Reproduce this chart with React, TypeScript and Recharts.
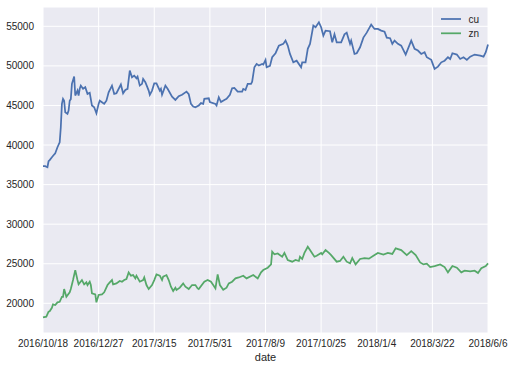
import React from 'react';
import { LineChart, Line, XAxis, YAxis, CartesianGrid } from 'recharts';

const tickLabels = ['2016/10/18', '2016/12/27', '2017/3/15', '2017/5/31', '2017/8/9', '2017/10/25', '2018/1/4', '2018/3/22', '2018/6/6'];
const tickIdx = [0, 50, 100, 150, 200, 250, 300, 350, 400];
const yTicks = [20000, 25000, 30000, 35000, 40000, 45000, 50000, 55000];

const cuIdx = [0, 2, 4, 5, 6, 8, 10, 11, 13, 15, 16, 17, 18, 19, 20, 22, 23, 24, 25, 26, 28, 29, 31, 32, 33, 34, 36, 38, 40, 42, 44, 46, 48, 50, 51, 53, 55, 57, 59, 62, 64, 66, 70, 72, 74, 76, 78, 80, 82, 84, 85, 87, 89, 90, 92, 95, 96, 98, 100, 102, 105, 106, 107, 110, 112, 116, 119, 122, 125, 129, 131, 133, 135, 137, 140, 142, 144, 145, 149, 150, 155, 156, 158, 160, 163, 165, 168, 170, 172, 175, 179, 180, 182, 184, 187, 188, 190, 192, 194, 197, 198, 200, 201, 204, 206, 209, 212, 216, 218, 220, 222, 225, 228, 232, 233, 236, 238, 240, 243, 245, 248, 250, 252, 254, 258, 260, 262, 264, 268, 271, 273, 276, 277, 280, 282, 285, 288, 291, 295, 298, 301, 304, 307, 309, 312, 314, 316, 319, 322, 326, 331, 334, 337, 340, 343, 345, 349, 352, 355, 358, 361, 364, 366, 368, 372, 375, 378, 381, 384, 388, 393, 396, 398, 400];
const cuVal = [37320, 37320, 37200, 37950, 38100, 38460, 38800, 38950, 39720, 40350, 42250, 45200, 45830, 45600, 44140, 43940, 44350, 45600, 45800, 47730, 48650, 46250, 46880, 46250, 47100, 47510, 47100, 47300, 46460, 46600, 44990, 44770, 44020, 45200, 45600, 45400, 45200, 45600, 46670, 47510, 46460, 46540, 47640, 46540, 46960, 47100, 49400, 48560, 48770, 48430, 48640, 47510, 47730, 48360, 47930, 46880, 46340, 46880, 47800, 47800, 46880, 47100, 46360, 47510, 47100, 46120, 45700, 46170, 46360, 46750, 46420, 45200, 44870, 44770, 45000, 45300, 45200, 45830, 45900, 45430, 45200, 45000, 46040, 45430, 45700, 45830, 46340, 47180, 47220, 46750, 46750, 47100, 46960, 47730, 47730, 48000, 49830, 50250, 50040, 50250, 50170, 50760, 49830, 50000, 51090, 51600, 52560, 52780, 53200, 52560, 51510, 50450, 50660, 49830, 50450, 50450, 52150, 52780, 55090, 54880, 55510, 54880, 53830, 54460, 54380, 52980, 53990, 52980, 52980, 53990, 54200, 52780, 53200, 51510, 51600, 52350, 53570, 54200, 55210, 54670, 54670, 54460, 54330, 53570, 53490, 52780, 53200, 52780, 52560, 51430, 53200, 52150, 51940, 51510, 51720, 51090, 50760, 49620, 49910, 50450, 50660, 51090, 50870, 51600, 51430, 50870, 51090, 50760, 51170, 51430, 51300, 51170, 51720, 52690];

const znIdx = [0, 3, 5, 6, 8, 9, 11, 13, 15, 17, 18, 19, 21, 24, 25, 27, 29, 31, 32, 35, 37, 39, 40, 42, 43, 44, 47, 48, 50, 53, 55, 58, 60, 62, 63, 66, 69, 71, 73, 75, 77, 79, 81, 83, 84, 87, 90, 91, 93, 95, 98, 100, 102, 105, 107, 108, 111, 113, 115, 117, 119, 120, 123, 126, 128, 131, 134, 137, 139, 140, 145, 148, 151, 153, 155, 157, 159, 162, 165, 167, 170, 173, 176, 180, 183, 189, 193, 196, 198, 202, 205, 206, 208, 211, 215, 217, 220, 224, 227, 230, 231, 233, 235, 238, 240, 244, 246, 250, 251, 254, 257, 259, 264, 267, 270, 273, 276, 278, 281, 285, 289, 293, 297, 301, 306, 310, 314, 317, 322, 327, 331, 335, 339, 342, 345, 348, 352, 357, 361, 364, 368, 372, 376, 379, 384, 388, 391, 394, 398, 400];
const znVal = [18230, 18310, 18940, 19000, 19440, 19870, 19780, 20120, 20200, 20830, 20830, 21800, 20830, 21390, 21800, 22940, 24200, 22940, 22400, 22940, 22400, 22650, 22310, 22730, 22310, 21260, 21130, 20120, 21050, 21130, 21390, 22310, 22650, 22940, 22400, 22520, 22820, 22730, 22940, 23060, 23910, 23490, 23570, 23150, 23490, 22730, 22940, 23270, 22310, 21800, 22310, 22940, 23660, 23490, 22940, 23360, 23570, 22940, 22100, 21560, 21980, 21690, 21980, 22520, 22100, 21800, 22310, 22310, 21890, 21800, 22730, 22940, 22730, 22310, 21890, 23660, 22310, 21720, 21980, 22520, 22730, 23150, 23270, 23490, 23150, 23570, 23150, 23910, 24200, 24500, 24920, 26520, 26190, 26300, 25880, 26370, 25470, 25260, 25470, 25350, 25880, 25600, 26370, 27150, 26730, 25880, 26000, 26370, 26190, 26730, 26370, 26090, 25260, 25350, 25880, 25260, 25050, 25720, 24920, 25600, 25720, 25640, 26000, 26370, 26160, 26370, 26240, 26940, 26730, 26090, 26590, 26090, 25170, 24920, 25000, 24580, 24710, 24920, 24580, 23910, 24710, 24500, 23910, 24120, 24040, 24120, 23830, 24430, 24710, 25050];

const cuData = cuIdx.map((i, k) => ({ i, v: cuVal[k] }));
const znData = znIdx.map((i, k) => ({ i, v: znVal[k] }));

const FONT = "'Liberation Sans', Arial, sans-serif";
const TXT = '#262626';
const CU = '#4C72B0';
const ZN = '#55A868';

const LegendBox = () => (
  <svg width={60} height={30} style={{ position: 'absolute', left: 441, top: 12, fontFamily: FONT }}>
    <line x1={0} y1={7} x2={20} y2={7} stroke={CU} strokeWidth={1.75} />
    <text x={27.5} y={10.5} fontSize={10} fill={TXT}>cu</text>
    <line x1={0} y1={21.3} x2={20} y2={21.3} stroke={ZN} strokeWidth={1.75} />
    <text x={27.5} y={24.8} fontSize={10} fill={TXT}>zn</text>
  </svg>
);

export default function App() {
  return (
    <div style={{ position: 'fixed', left: 0, top: 0, width: 514, height: 370, background: '#fff' }}>
      <LineChart width={514} height={370} margin={{ top: 7, right: 26, left: 0, bottom: 0 }} style={{ fontFamily: FONT }}>
        <CartesianGrid fill="#EAEAF2" stroke="#fff" strokeWidth={1} />
        <XAxis
          dataKey="i"
          type="number"
          domain={[0, 400]}
          ticks={tickIdx}
          tickFormatter={(v: number) => tickLabels[tickIdx.indexOf(v)] ?? ''}
          interval={0}
          height={37}
          axisLine={false}
          tickLine={false}
          tickSize={0}
          tickMargin={7}
          tick={{ fontSize: 10, fill: TXT, fontFamily: FONT }}
          label={{ value: 'date', position: 'insideBottom', offset: 9, fontSize: 11, fill: TXT, fontFamily: FONT }}
        />
        <YAxis
          type="number"
          domain={[16250, 57440]}
          ticks={yTicks}
          interval={0}
          width={43}
          axisLine={false}
          tickLine={false}
          tickSize={0}
          tickMargin={9}
          tick={{ fontSize: 10, fill: TXT, fontFamily: FONT }}
          allowDataOverflow
        />
        <Line data={cuData} dataKey="v" name="cu" stroke={CU} strokeWidth={1.75} dot={false} activeDot={false} isAnimationActive={false} />
        <Line data={znData} dataKey="v" name="zn" stroke={ZN} strokeWidth={1.75} dot={false} activeDot={false} isAnimationActive={false} />
      </LineChart>
      <LegendBox />
    </div>
  );
}
